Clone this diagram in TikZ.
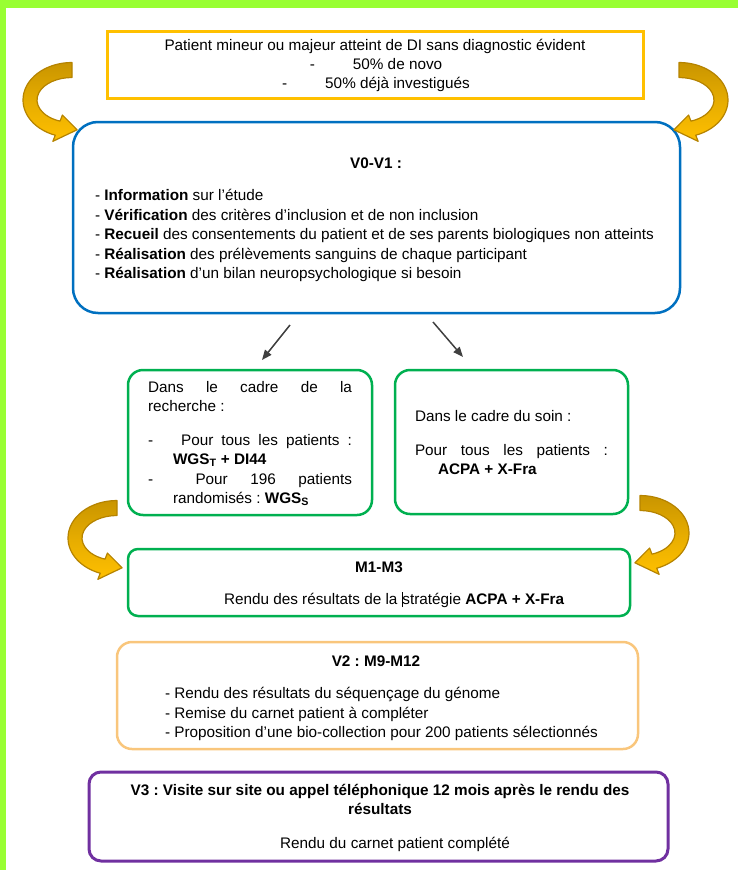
\documentclass[tikz,border=0pt]{standalone}
\usepackage{fontspec}
\setmainfont{Liberation Sans}
\usetikzlibrary{arrows.meta}
\frenchspacing
\definecolor{lime}{HTML}{99FF33}
\definecolor{amber}{HTML}{FFC000}
\definecolor{ochre}{HTML}{C99500}
\definecolor{ochreedge}{HTML}{B58300}
\definecolor{blueline}{HTML}{0070C0}
\definecolor{greenline}{HTML}{00B050}
\definecolor{peachline}{HTML}{F9C67C}
\definecolor{purpleline}{HTML}{7030A0}
\definecolor{arrowgray}{HTML}{404040}
\tikzset{
  frame/.style={line width=2.5pt, inner sep=0pt, outer sep=0pt},
  txt/.style={inner sep=0pt, outer sep=0pt},
  grayarrow/.style={draw=arrowgray, line width=1.5pt, -{Triangle[length=10pt,width=8pt]}},
  goldband/.style={top color=ochre, bottom color=amber, middle color=ochre!45!amber, draw=ochreedge, line width=1.2pt, line join=round}
}
\newcommand{\goldarrow}[3]{%
  \begin{scope}[shift={(#1,#2)}, xscale=#3]
    \path[goldband] (270:49 and 37.5) arc[start angle=270, end angle=110, x radius=49, y radius=37.5]
      -- (110:56 and 44) -- (83:42 and 30) -- (110:28 and 16) -- (110:35 and 22.5)
      arc[start angle=110, end angle=270, x radius=35, y radius=22.5] -- cycle;
  \end{scope}}
\begin{document}
\begin{tikzpicture}[x=1pt, y=-1pt, font=\fontsize{15.3}{19.6}\selectfont]
\useasboundingbox (0,0) rectangle (738,870);
\fill[lime] (0,0) rectangle (738,8);
\fill[lime] (0,0) rectangle (6,870);

% boxes
\node[frame, draw=amber, line width=3pt, minimum width=536pt, minimum height=67pt] (top) at (375,64.5) {};
\node[frame, draw=blueline, rounded corners=25pt, minimum width=607pt, minimum height=191pt] (v01) at (376.5,217.5) {};
\node[frame, draw=greenline, rounded corners=15pt, minimum width=244pt, minimum height=145pt] (rech) at (250,442.5) {};
\node[frame, draw=greenline, rounded corners=15pt, minimum width=233pt, minimum height=144pt] (soin) at (511.5,442) {};
\node[frame, draw=greenline, rounded corners=10pt, minimum width=502pt, minimum height=67pt] (m13) at (379,582.5) {};
\node[frame, draw=peachline, rounded corners=15pt, minimum width=521pt, minimum height=107pt] (v2) at (377.5,695.5) {};
\node[frame, draw=purpleline, line width=3pt, rounded corners=12pt, minimum width=579pt, minimum height=89pt] (v3) at (378.5,816.5) {};

% top box text
\node[txt, anchor=base] (t1) at (375,50) {Patient mineur ou majeur atteint de DI sans diagnostic évident};
\node[txt, anchor=base] (t2) at (376,69) {-\hspace{38pt}50\% de novo};
\node[txt, anchor=base] (t3) at (376,88) {-\hspace{38pt}50\% déjà investigués};

% V0-V1 text
\node[txt, anchor=base] (v01t) at (376,168) {\textbf{V0-V1 :}};
\node[txt, anchor=base west] (l1) at (95,200) {- \textbf{Information} sur l’étude};
\node[txt, anchor=base west] (l2) at (95,220) {- \textbf{Vérification} des critères d’inclusion et de non inclusion};
\node[txt, anchor=base west] (l3) at (95,239) {- \textbf{Recueil} des consentements du patient et de ses parents biologiques non atteints};
\node[txt, anchor=base west] (l4) at (95,259) {- \textbf{Réalisation} des prélèvements sanguins de chaque participant};
\node[txt, anchor=base west] (l5) at (95,278) {- \textbf{Réalisation} d’un bilan neuropsychologique si besoin};

% gray arrows
\coordinate (a1s) at (290,325);
\coordinate (a1e) at (262,360);
\coordinate (a2s) at (433,322);
\coordinate (a2e) at (463,357);
\draw[grayarrow] (a1s) -- (a1e);
\draw[grayarrow] (a2s) -- (a2e);

% research box text
\node[txt, anchor=base west] (g1) at (148,392) {\makebox[204pt][s]{Dans le cadre de la}};
\node[txt, anchor=base west] (g2) at (148,411) {recherche :};
\node[txt, anchor=base west] (g3) at (148,445) {\makebox[25pt][l]{-}\makebox[179pt][s]{\ Pour tous les patients :}};
\node[txt, anchor=base west] (g4) at (173,464) {\textbf{WGS\textsubscript{T} + DI44}};
\node[txt, anchor=base west] (g5) at (148,484) {\makebox[25pt][l]{-}\makebox[179pt][s]{\ Pour 196 patients}};
\node[txt, anchor=base west] (g6) at (173,503) {randomisés : \textbf{WGS\textsubscript{S}}};

% care box text
\node[txt, anchor=base west] (r1) at (415,421) {Dans le cadre du soin :};
\node[txt, anchor=base west] (r2) at (415,455) {\makebox[193pt][s]{Pour tous les patients :}};
\node[txt, anchor=base west] (r3) at (438,474) {\textbf{ACPA + X-Fra}};

% M1-M3 text
\node[txt, anchor=base] (m1) at (379,572) {\textbf{M1-M3}};
\node[txt, anchor=base west] (m2) at (224,604) {Rendu des résultats de la \rule[-3pt]{0.7pt}{15pt}stratégie \textbf{ACPA + X-Fra}};

% V2 text
\node[txt, anchor=base] (v2t) at (376,666) {\textbf{V2 : M9-M12}};
\node[txt, anchor=base west] (k1) at (165,698) {- Rendu des résultats du séquençage du génome};
\node[txt, anchor=base west] (k2) at (165,718) {- Remise du carnet patient à compléter};
\node[txt, anchor=base west] (k3) at (165,737) {- Proposition d’une bio-collection pour 200 patients sélectionnés};

% V3 text
\node[txt, anchor=base] (w1) at (380,795) {\textbf{V3 : Visite sur site ou appel téléphonique 12 mois après le rendu des}};
\node[txt, anchor=base] (w2) at (380,814) {\textbf{résultats}};
\node[txt, anchor=base] (w3) at (395,848) {Rendu du carnet patient complété};

% gold curved arrows
\goldarrow{72}{100}{1}
\goldarrow{679}{100}{-1}
\goldarrow{117}{538}{1}
\goldarrow{640}{533}{-1}
\end{tikzpicture}
\end{document}
